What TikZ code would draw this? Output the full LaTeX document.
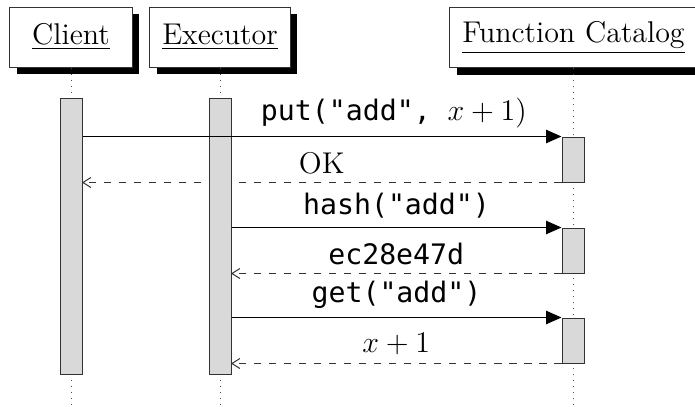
\documentclass[tikz,border=0pt]{standalone}
\usepackage{fontspec}
\setmonofont{DejaVu Sans Mono}[Scale=0.94]
\usetikzlibrary{arrows.meta,shadows}
\tikzset{
  lbl/.style={font=\fontsize{12}{14.4}\selectfont},
  actor/.style={lbl, draw=black!80, fill=white, line width=0.4pt,
    minimum width=49pt, minimum height=24pt, inner xsep=5pt,
    drop shadow={shadow xshift=2.8pt, shadow yshift=-2.8pt, opacity=1, fill=black}},
  lifeline/.style={dotted, draw=black!70, line width=0.4pt},
  bar/.style={draw=black!80, fill=black!15, line width=0.4pt, inner sep=0pt, minimum width=8.8pt},
  callarr/.style={draw=black, line width=0.4pt, -{Triangle[length=6.2pt,width=5.4pt]}},
  retarr/.style={draw=black!80, dashed, line width=0.4pt, -{Straight Barb[length=3.2pt,width=4pt]}},
}
\begin{document}
\begin{tikzpicture}[x=0.4pt, y=-0.4pt]
\useasboundingbox (0,0) rectangle (695,407);

% participants
\node[actor] (client) at (71,37) {\underline{Client}};
\node[actor] (exec) at (220,37) {\underline{Executor}};
\node[actor] (cat) at (573.5,37.5) {\underline{Function Catalog}};

% lifelines
\coordinate (clEnd) at (71,407);
\coordinate (exEnd) at (220,407);
\coordinate (caEnd) at (573,407);
\draw[lifeline] (client.south) -- (clEnd);
\draw[lifeline] (exec.south) -- (exEnd);
\draw[lifeline] (cat.south -| caEnd) -- (caEnd);

% coordinates of the activation bars
\coordinate (cbC) at (71,236);
\coordinate (ebC) at (220,236);
\coordinate (f1C) at (573,159.5);
\coordinate (f2C) at (573,250.5);
\coordinate (f3C) at (573,340.5);

% reply messages (behind the bars)
\path (f1C) node[bar, minimum height=18pt] (f1) {}
      (f2C) node[bar, minimum height=18pt] (f2) {}
      (f3C) node[bar, minimum height=18pt] (f3) {};
\coordinate (okEnd) at (cbC |- f1.south);
\coordinate (hashEnd) at (ebC |- f2.south);
\coordinate (getEnd) at (ebC |- f3.south);
\draw[retarr] (f1.south west) -- ([xshift=4.4pt]okEnd)
  node[lbl, midway, above] {OK};
\draw[retarr] (f2.south west) -- ([xshift=4.4pt]hashEnd)
  node[lbl, midway, above] {\texttt{ec28e47d}};
\draw[retarr] (f3.south west) -- ([xshift=4.4pt]getEnd)
  node[lbl, midway, above] {$x+1$};

% activation bars
\node[bar, minimum height=110.4pt] (cb) at (cbC) {};
\node[bar, minimum height=110.4pt] (eb) at (ebC) {};
\node[bar, minimum height=18pt] at (f1C) {};
\node[bar, minimum height=18pt] at (f2C) {};
\node[bar, minimum height=18pt] at (f3C) {};

% calls
\draw[callarr] (cb.east |- f1.north) -- (f1.north west)
  node[lbl, pos=0.65, above] {\texttt{put("add", }$x+1$)};
\draw[callarr] (eb.east |- f2.north) -- (f2.north west)
  node[lbl, midway, above] {\texttt{hash("add")}};
\draw[callarr] (eb.east |- f3.north) -- (f3.north west)
  node[lbl, midway, above] {\texttt{get("add")}};
\end{tikzpicture}
\end{document}
